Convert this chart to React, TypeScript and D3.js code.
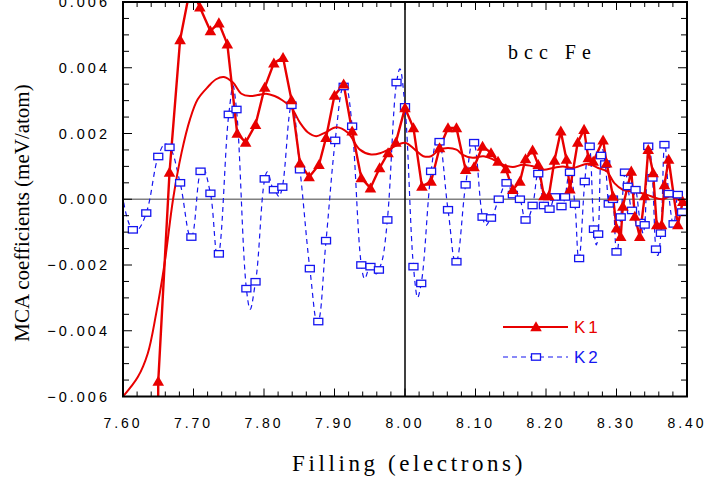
import React from 'react';
import * as d3 from 'd3';

// Axis ticks
const xMajor = [7.6, 7.7, 7.8, 7.9, 8.0, 8.1, 8.2, 8.3, 8.4];
const yMajor = [-0.006, -0.004, -0.002, 0, 0.002, 0.004, 0.006];

// K1 coefficients (solid red, triangles)
const k1X = [7.6495, 7.65, 7.666, 7.681, 7.696, 7.709, 7.724, 7.736, 7.748, 7.762, 7.774, 7.788, 7.801, 7.814, 7.827, 7.839, 7.851, 7.864, 7.878, 7.888, 7.9, 7.913, 7.925, 7.938, 7.951, 7.964, 7.976, 7.987, 8.0, 8.012, 8.024, 8.037, 8.049, 8.061, 8.073, 8.086, 8.098, 8.11, 8.122, 8.132, 8.143, 8.153, 8.163, 8.171, 8.181, 8.189, 8.197, 8.204, 8.212, 8.221, 8.229, 8.234, 8.245, 8.254, 8.26, 8.267, 8.281, 8.286, 8.295, 8.3, 8.306, 8.309, 8.321, 8.326, 8.333, 8.34, 8.345, 8.352, 8.357, 8.364, 8.368, 8.374, 8.387, 8.394];
const k1Y = [-0.0085, -0.00554, 0.00082, 0.00485, 0.0065, 0.00584, 0.00512, 0.00536, 0.00472, 0.002, 0.00173, 0.00227, 0.0034, 0.00414, 0.00431, 0.00302, 0.0011, 0.00068, 0.00105, 0.00187, 0.00316, 0.0035, 0.00207, 0.00065, 0.00034, 0.00095, 0.00141, 0.00173, 0.00278, 0.00217, 0.00039, 0.00054, 0.00156, 0.00217, 0.00217, 0.0009, 0.00098, 0.00161, 0.00141, 0.00115, 0.00092, 0.00029, 0.00054, 0.00123, 0.00149, 0.00105, 0.0001, 0.0001, 0.00118, 0.00207, 0.00121, 0.00031, 0.00173, 0.00212, 0.00126, 0.00115, 0.0018, 0.0011, 0.00009, -0.00088, -0.00114, -0.00022, 0.00085, -0.00052, -0.00114, 0.0001, 0.00151, 0.0008, -0.00078, -0.00078, 0.00044, 0.00121, -0.00078, -0.00007];

// K2 coefficients (dashed blue, open squares)
const k2X = [7.601, 7.614, 7.633, 7.65, 7.666, 7.681, 7.697, 7.71, 7.724, 7.736, 7.75, 7.761, 7.775, 7.788, 7.801, 7.814, 7.826, 7.839, 7.851, 7.865, 7.877, 7.888, 7.901, 7.913, 7.925, 7.938, 7.951, 7.963, 7.975, 7.988, 8.0, 8.012, 8.023, 8.037, 8.049, 8.061, 8.073, 8.086, 8.098, 8.11, 8.122, 8.133, 8.144, 8.153, 8.163, 8.171, 8.181, 8.189, 8.197, 8.205, 8.213, 8.222, 8.227, 8.234, 8.241, 8.247, 8.255, 8.262, 8.268, 8.274, 8.278, 8.284, 8.289, 8.295, 8.3, 8.306, 8.312, 8.316, 8.322, 8.327, 8.334, 8.34, 8.345, 8.351, 8.356, 8.363, 8.368, 8.374, 8.381, 8.387, 8.393];
const k2Y = [-0.0001, -0.00093, -0.00042, 0.0013, 0.00158, 0.0005, -0.00115, 0.00085, 0.00018, -0.00166, 0.00258, 0.00273, -0.00272, -0.00251, 0.00062, 0.00029, 0.00037, 0.00286, 0.0009, -0.00211, -0.00372, -0.00126, 0.00179, 0.00343, 0.00222, -0.002, -0.00205, -0.00215, -0.00063, 0.00355, 0.00281, -0.00205, -0.00256, 0.00085, 0.00175, -0.00032, -0.0019, 0.00044, 0.00172, -0.00054, -0.00057, 0.0, 0.0005, 0.00014, 0.0, -0.00063, -0.00019, 0.00078, -0.00019, -0.0003, 0.00007, -0.00022, 0.00007, 0.00082, -0.00015, -0.0018, 0.00054, 0.00161, -0.00091, -0.00106, 0.00133, 0.00107, -0.00014, 0.0, -0.0016, -0.00054, 0.00082, 0.00039, -0.00034, 0.00029, -0.00071, -0.00078, 0.00161, 0.00065, -0.00152, -0.00103, 0.00166, 0.00017, -0.00075, 0.00014, -0.00039];

// Smoothed K1 trend (solid red, no markers)
const avgX = [7.6, 7.621, 7.635, 7.647, 7.659, 7.671, 7.683, 7.695, 7.706, 7.721, 7.732, 7.743, 7.756, 7.768, 7.78, 7.791, 7.803, 7.815, 7.826, 7.839, 7.851, 7.862, 7.874, 7.886, 7.903, 7.919, 7.936, 7.952, 7.966, 7.981, 8.0, 8.014, 8.026, 8.037, 8.049, 8.061, 8.073, 8.082, 8.096, 8.111, 8.125, 8.139, 8.153, 8.167, 8.182, 8.196, 8.21, 8.224, 8.238, 8.26, 8.274, 8.286, 8.297, 8.309, 8.321, 8.335, 8.349, 8.364, 8.378, 8.392, 8.4];
const avgY = [-0.006, -0.00541, -0.0047, -0.00348, -0.00195, 0.0, 0.00141, 0.00243, 0.00304, 0.00343, 0.00365, 0.00372, 0.00355, 0.00321, 0.00314, 0.00317, 0.00321, 0.00314, 0.00301, 0.00278, 0.00233, 0.00204, 0.00192, 0.00202, 0.00219, 0.00202, 0.00151, 0.00136, 0.00141, 0.00156, 0.00172, 0.00151, 0.00131, 0.00131, 0.00151, 0.00156, 0.00151, 0.00135, 0.00126, 0.00131, 0.00121, 0.00105, 0.00098, 0.00105, 0.001, 0.0009, 0.00095, 0.001, 0.00095, 0.00108, 0.00095, 0.00085, 0.00049, 0.00029, 0.00024, 0.00019, 0.00009, 0.0, 0.00009, -0.00007, -0.0001];

const RED = '#e80000';
const BLUE = '#1515f0';

export default function App() {
  const W = 707;
  const H = 481;
  const left = 123;
  const right = 687;
  const top = 2;
  const bottom = 396.5;

  const x = d3.scaleLinear().domain([7.6, 8.4]).range([left, right]);
  const y = d3.scaleLinear().domain([-0.006, 0.006]).range([bottom, top]);

  const xMinor = d3.range(0, 41).map((i) => 7.6 + i * 0.02);
  const yMinor = d3.range(0, 25).map((i) => -0.006 + i * 0.0005);
  const isMajorX = (v: number) => Math.abs(v * 10 - Math.round(v * 10)) < 1e-6;
  const isMajorY = (v: number) => Math.abs(v / 0.002 - Math.round(v / 0.002)) < 1e-6;

  const k1 = k1X.map((v, i) => [v, k1Y[i]] as [number, number]);
  const k2 = k2X.map((v, i) => [v, k2Y[i]] as [number, number]);
  const avg = avgX.map((v, i) => [v, avgY[i]] as [number, number]);

  const linear = d3.line<[number, number]>().x((d) => x(d[0])).y((d) => y(d[1]));
  const spline = d3
    .line<[number, number]>()
    .x((d) => x(d[0]))
    .y((d) => y(d[1]))
    .curve(d3.curveCardinal.tension(-0.3));
  const smooth = d3
    .line<[number, number]>()
    .x((d) => x(d[0]))
    .y((d) => y(d[1]))
    .curve(d3.curveCatmullRom);

  const tri = d3.symbol().type(d3.symbolTriangle).size(58)() as string;
  const fmtX = d3.format('.2f');
  const fmtY = d3.format('.3f');

  const tickFont = "'Liberation Sans', Arial, sans-serif";
  const serif = "'Liberation Serif', 'Times New Roman', serif";

  return (
    <svg
      width={W}
      height={H}
      viewBox={`0 0 ${W} ${H}`}
      style={{ position: 'absolute', left: 0, top: 0, background: '#fff' }}
    >
      <defs>
        <clipPath id="plot-clip">
          <rect x={left} y={top} width={right - left} height={bottom - top} />
        </clipPath>
      </defs>
      <rect x={0} y={0} width={W} height={H} fill="#fff" />

      {/* reference lines */}
      <line x1={left} x2={right} y1={y(0)} y2={y(0)} stroke="#808080" strokeWidth={1.5} />
      <line x1={x(8)} x2={x(8)} y1={top} y2={bottom} stroke="#000" strokeWidth={1.5} />

      <g clipPath="url(#plot-clip)">
        <path d={spline(k2) ?? ''} fill="none" stroke={BLUE} strokeWidth={1.2} strokeDasharray="5,4" />
        <path d={smooth(avg) ?? ''} fill="none" stroke={RED} strokeWidth={2} />
        <path d={linear(k1) ?? ''} fill="none" stroke={RED} strokeWidth={2.4} strokeLinejoin="round" />
        {k2
          .filter((d) => d[0] > 7.605)
          .map((d, i) => (
            <rect
              key={`s${i}`}
              x={x(d[0]) - 4.5}
              y={y(d[1]) - 3.2}
              width={9}
              height={6.4}
              fill="#fff"
              stroke={BLUE}
              strokeWidth={1.3}
            />
          ))}
        {k1.map((d, i) => (
          <path key={`t${i}`} d={tri} transform={`translate(${x(d[0])},${y(d[1]) + 1})`} fill={RED} />
        ))}
      </g>

      {/* ticks */}
      {xMinor.map((v, i) => {
        const len = isMajorX(v) ? 8 : 5;
        return (
          <g key={`xt${i}`} stroke="#000" strokeWidth={1}>
            <line x1={x(v)} x2={x(v)} y1={bottom} y2={bottom - len} />
            <line x1={x(v)} x2={x(v)} y1={top} y2={top + len} />
          </g>
        );
      })}
      {yMinor.map((v, i) => {
        const len = isMajorY(v) ? 9 : 6;
        return (
          <g key={`yt${i}`} stroke="#000" strokeWidth={1}>
            <line x1={left} x2={left + len} y1={y(v)} y2={y(v)} />
            <line x1={right} x2={right - len} y1={y(v)} y2={y(v)} />
          </g>
        );
      })}

      {/* frame */}
      <rect x={left} y={top} width={right - left} height={bottom - top} fill="none" stroke="#000" strokeWidth={2} />

      {/* tick labels */}
      {xMajor.map((v, i) => (
        <text
          key={`xl${i}`}
          x={x(v)}
          y={428}
          textAnchor="middle"
          fontFamily={tickFont}
          fontSize={14}
          letterSpacing={3}
          fill="#000"
        >
          {fmtX(v)}
        </text>
      ))}
      {yMajor.map((v, i) => (
        <text
          key={`yl${i}`}
          x={110}
          y={y(v) + 5}
          textAnchor="end"
          fontFamily={tickFont}
          fontSize={14.5}
          letterSpacing={3}
          fill="#000"
        >
          {fmtY(v)}
        </text>
      ))}

      {/* axis titles */}
      <text
        x={409}
        y={471}
        textAnchor="middle"
        fontFamily={serif}
        fontSize={23}
        letterSpacing={3.6}
        fill="#000"
      >
        Filling (electrons)
      </text>
      <text
        transform={`translate(29,${213}) rotate(-90)`}
        textAnchor="middle"
        fontFamily={serif}
        fontSize={21}
        fill="#000"
      >
        MCA coefficients (meV/atom)
      </text>

      {/* annotation */}
      <text x={508} y={59} fontFamily={serif} fontSize={20} letterSpacing={6} fill="#000">
        bcc Fe
      </text>

      {/* legend */}
      <g>
        <line x1={503} x2={568} y1={327} y2={327} stroke={RED} strokeWidth={2} />
        <path d={tri} transform="translate(536,328)" fill={RED} />
        <text x={574} y={333} fontFamily={tickFont} fontSize={17} letterSpacing={3} fill={RED}>
          K1
        </text>
        <line x1={503} x2={568} y1={357} y2={357} stroke={BLUE} strokeWidth={1.2} strokeDasharray="5,4" />
        <rect x={531.5} y={353.8} width={9} height={6.4} fill="#fff" stroke={BLUE} strokeWidth={1.3} />
        <text x={574} y={363} fontFamily={tickFont} fontSize={17} letterSpacing={3} fill={BLUE}>
          K2
        </text>
      </g>
    </svg>
  );
}
